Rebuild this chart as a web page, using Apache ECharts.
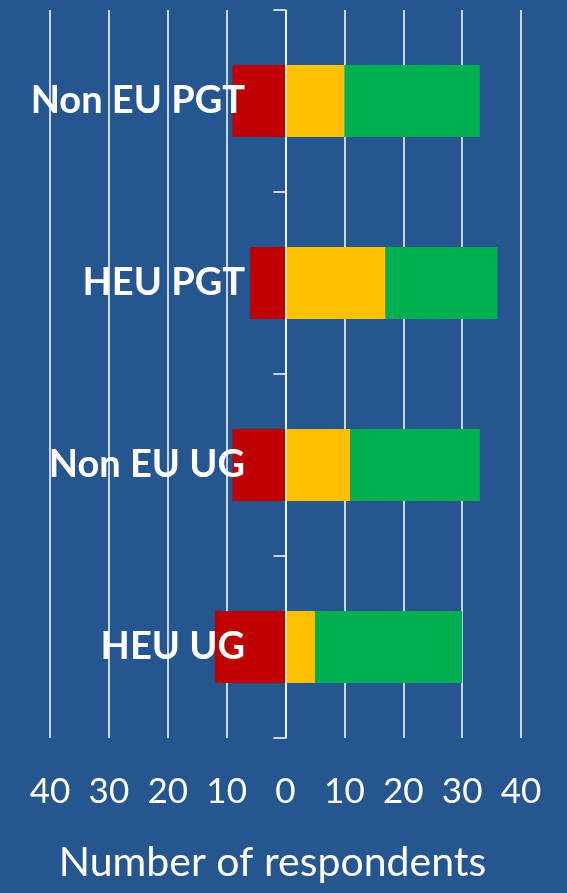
<!DOCTYPE html>
<html>
<head>
<meta charset="utf-8">
<script src="https://cdn.jsdelivr.net/npm/echarts@6/dist/echarts.min.js"></script>
<style>
  html, body { margin: 0; padding: 0; background: #25568f; }
  #main { width: 567px; height: 893px; }
</style>
</head>
<body>
<div id="main"></div>
<script>
// categories bottom -> top (category axis draws first item at the bottom)
var groups = ['HEU UG', 'Non EU UG', 'HEU PGT', 'Non EU PGT'];
var negative = [-12, -9, -6, -9];
var neutral = [5, 11, 17, 10];
var positive = [25, 22, 19, 23];
var tickValues = [-40, -30, -20, -10, 0, 10, 20, 30, 40];

window.onload = function () {
  var myChart = echarts.init(document.getElementById('main'));
  var option = {
    backgroundColor: '#25568f',
    animation: false,
    grid: { left: 50, right: 46, top: 10, bottom: 155, containLabel: false, outerBoundsMode: 'none' },
    xAxis: {
      type: 'value',
      min: -40,
      max: 40,
      interval: 10,
      name: 'Number of respondents',
      nameLocation: 'middle',
      nameGap: 104,
      nameTextStyle: { color: '#fff', fontSize: 41, fontFamily: 'Lato', padding: [0, 26, 0, 0] },
      axisLine: { show: false },
      axisTick: { show: false },
      axisLabel: {
        color: '#fff',
        fontSize: 35,
        fontFamily: 'Lato',
        margin: 36,
        showMinLabel: true,
        showMaxLabel: true,
        formatter: function (v) { return tickValues.indexOf(v) >= 0 ? Math.abs(v) : ''; }
      },
      splitLine: { lineStyle: { color: '#ffffff', width: 1.5 } }
    },
    yAxis: {
      type: 'category',
      data: groups,
      z: 10,
      axisLine: { show: true, onZero: true, lineStyle: { color: '#ffffff', width: 1.5 } },
      axisTick: { show: true, length: 12, lineStyle: { color: '#ffffff', width: 1.5 } },
      axisLabel: {
        color: '#fff',
        fontSize: 38,
        fontWeight: 'bold',
        fontFamily: 'Lato',
        margin: -195
      }
    },
    series: [
      {
        name: 'Negative',
        type: 'bar',
        stack: 'total',
        barWidth: 72,
        itemStyle: { color: '#c00000' },
        data: negative
      },
      {
        name: 'Neutral',
        type: 'bar',
        stack: 'total',
        barWidth: 72,
        itemStyle: { color: '#ffc000' },
        data: neutral
      },
      {
        name: 'Positive',
        type: 'bar',
        stack: 'total',
        barWidth: 72,
        itemStyle: { color: '#00b050' },
        data: positive
      }
    ]
  };
  myChart.setOption(option);
};
</script>
</body>
</html>
